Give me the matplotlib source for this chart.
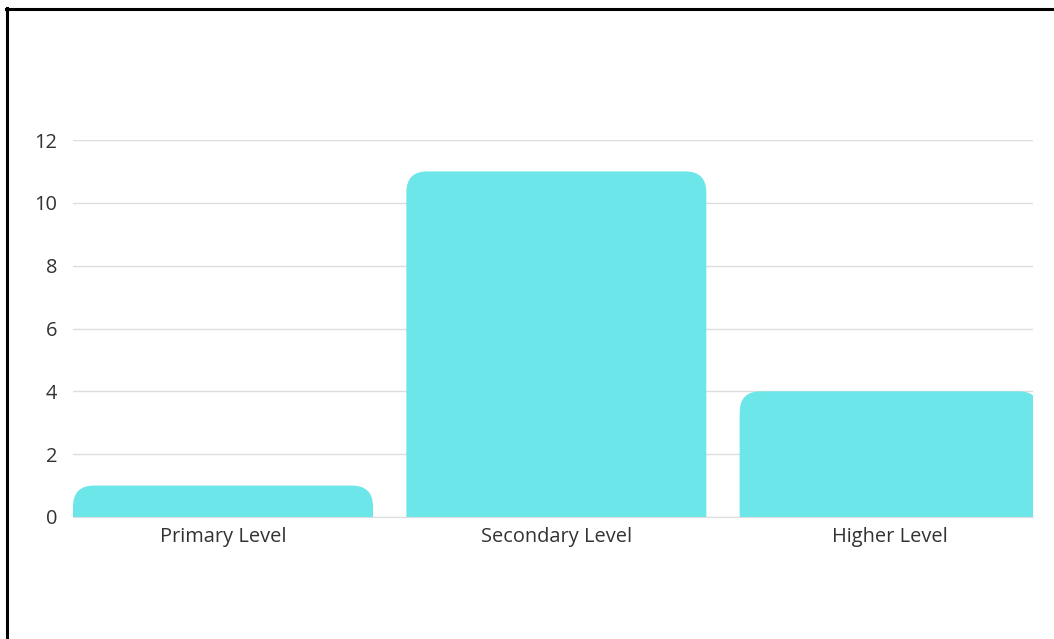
import matplotlib
matplotlib.use("Agg")
import matplotlib.pyplot as plt
from matplotlib.patches import FancyBboxPatch
from matplotlib.lines import Line2D

# data
categories = ["Primary Level", "Secondary Level", "Higher Level"]
values = [1, 11, 4]

bar_color = "#6ce6e8"
text_color = "#333333"
grid_color = "#dddddd"

plt.rcParams['font.family'] = ['Open Sans', 'DejaVu Sans']

W, H = 1054, 639
fig = plt.figure(figsize=(W / 100, H / 100), dpi=100)
fig.patch.set_facecolor("white")
ax = fig.add_axes([73 / W, (H - 517) / H, (1033 - 73) / W, (517 - 140) / H])

bars = ax.bar(range(len(categories)), values, width=0.9, color=bar_color)
ax.set_xlim(-0.45, 2.43)
ax.set_ylim(0, 12)
ax.set_yticks(range(0, 13, 2))
ax.set_xticks(range(len(categories)))
ax.set_xticklabels(categories)

ax.grid(axis="y", color=grid_color, linewidth=1)
ax.set_axisbelow(True)
for s in ["top", "right", "left"]:
    ax.spines[s].set_visible(False)
ax.spines["bottom"].set_color(grid_color)
ax.tick_params(length=0, labelsize=14.4, colors=text_color)
ax.tick_params(axis="y", pad=11.5)
ax.tick_params(axis="x", pad=7)

# swap plain bars for bars with rounded top corners
fig.canvas.draw()
inv = ax.transData.inverted()
p0 = inv.transform((0, 0))
p1 = inv.transform((1, 1))
ux, uy = p1[0] - p0[0], p1[1] - p0[1]
radius_px = 21
for b in bars:
    x, w, h = b.get_x(), b.get_width(), b.get_height()
    r = radius_px * ux
    rect = FancyBboxPatch((x, -radius_px * uy), w, h + radius_px * uy,
                          boxstyle=f"round,pad=0,rounding_size={r}",
                          mutation_aspect=uy / ux,
                          facecolor=bar_color, edgecolor="none", zorder=2)
    ax.add_patch(rect)
    rect.set_clip_path(ax.patch)
    b.set_visible(False)

# black frame on top and left
fig.add_artist(Line2D([6 / W, 1], [(H - 9) / H] * 2, color="black", lw=2.2,
                      transform=fig.transFigure))
fig.add_artist(Line2D([7 / W] * 2, [0, (H - 8) / H], color="black", lw=2.2,
                      transform=fig.transFigure))

fig.savefig("out.png", dpi=100)
